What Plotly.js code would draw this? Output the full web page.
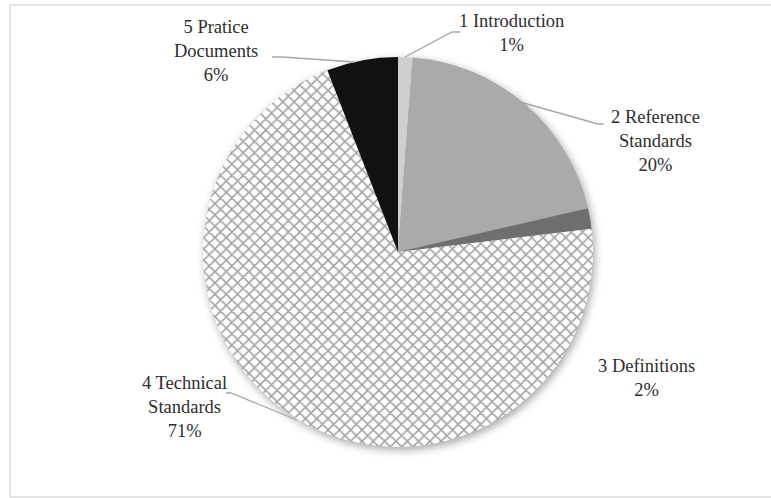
<!DOCTYPE html>
<html>
<head>
<meta charset="utf-8">
<script src="https://cdn.plot.ly/plotly-3.0.1.min.js"></script>
<style>
  html, body { margin: 0; padding: 0; background: #fff; }
  #chart { width: 771px; height: 498px; }
  .pielayer { filter: drop-shadow(2px 3px 4px rgba(0,0,0,0.35)); }
</style>
</head>
<body>
<div id="chart"></div>
<script>
// Data
const categoryNames = ["1 Introduction", "2 Reference<br>Standards", "3 Definitions", "4 Technical<br>Standards", "5 Pratice<br>Documents"];
const shareValues = [1.2, 20.2, 1.7, 71.0, 5.9];
const shareLabels = ["1%", "20%", "2%", "71%", "6%"];
const sliceColors = ["#cfcfcf", "#aaa9ab", "#6f6e70", "#ffffff", "#111111"];

const W = 771, H = 498;
const cx = 398, cy = 252, R = 195;
const px = x => x / W;
const py = y => 1 - y / H;

// label boxes (text centre) and leader lines
const labelPos = [
  {x: 511, y: 33},
  {x: 655, y: 141},
  {x: 646, y: 378},
  {x: 184, y: 407},
  {x: 216, y: 51}
];
const leaders = [
  [[405, 57], [452, 32], [460, 32]],
  [[520, 102], [598, 124], [604, 124]],
  null,
  [[297, 420], [231, 393], [226, 393]],
  [[355, 62], [282, 57], [272, 57]]
];

const trace = {
  type: "pie",
  labels: categoryNames,
  values: shareValues,
  sort: false,
  direction: "clockwise",
  rotation: 0,
  textinfo: "none",
  hoverinfo: "label+percent",
  showlegend: false,
  domain: {x: [px(cx - R), px(cx + R)], y: [py(cy + R), py(cy - R)]},
  marker: {
    colors: sliceColors,
    line: {width: 0},
    pattern: {
      shape: ["", "", "", "x", ""],
      fgcolor: "#454545",
      bgcolor: "#ffffff",
      size: 8,
      solidity: 0.35,
      fillmode: "overlay"
    }
  }
};

const annotations = categoryNames.map((n, i) => ({
  xref: "paper", yref: "paper",
  x: px(labelPos[i].x), y: py(labelPos[i].y),
  xanchor: "center", yanchor: "middle",
  text: n + "<br>" + shareLabels[i],
  showarrow: false,
  align: "center",
  font: {family: "Liberation Serif, serif", size: 18.5, color: "#2e2e2e"}
}));

const frame = [[790, 5], [10, 5], [10, 497], [790, 497]];
const shapes = [{
  type: "path", xref: "paper", yref: "paper",
  path: frame.map((p, k) => (k ? "L" : "M") + px(p[0]) + "," + py(p[1])).join(" "),
  line: {color: "#dcdcdc", width: 1.5}, layer: "below"
}];
leaders.forEach(l => {
  if (!l) return;
  const d = l.map((p, k) => (k ? "L" : "M") + px(p[0]) + "," + py(p[1])).join(" ");
  shapes.push({type: "path", xref: "paper", yref: "paper", path: d,
    line: {color: "#a6a6a6", width: 1.3}});
});

const layout = {
  width: W, height: H,
  margin: {l: 0, r: 0, t: 0, b: 0},
  paper_bgcolor: "#ffffff",
  plot_bgcolor: "#ffffff",
  annotations: annotations,
  shapes: shapes
};

Plotly.newPlot("chart", [trace], layout, {displayModeBar: false, staticPlot: true});
</script>
</body>
</html>
